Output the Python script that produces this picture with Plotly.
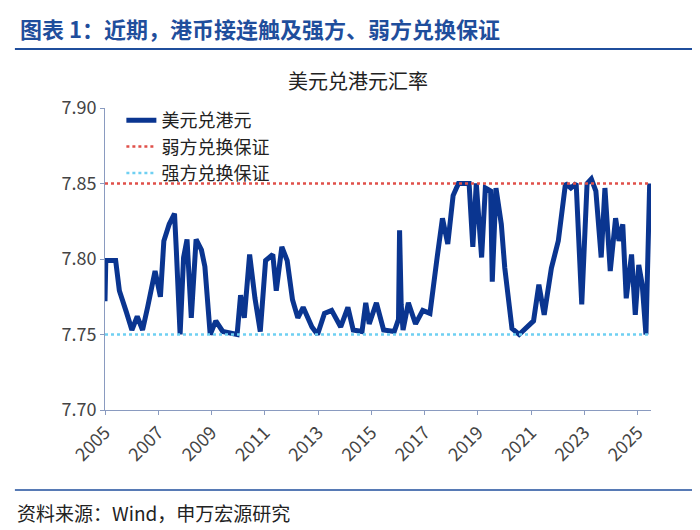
"""USD/HKD exchange rate chart with convertibility undertakings."""

import plotly.graph_objects as go

# decimal year and USD/HKD
years = [2005.00, 2005.03, 2005.40, 2005.54, 2005.80, 2006.01, 2006.21, 2006.41, 2006.60, 2006.74,
         2006.88, 2007.08, 2007.21, 2007.41, 2007.61, 2007.68, 2007.82, 2007.95, 2008.08, 2008.24,
         2008.42, 2008.62, 2008.75, 2008.95, 2009.16, 2009.42, 2009.96, 2010.09, 2010.23, 2010.43,
         2010.63, 2010.83, 2011.03, 2011.30, 2011.43, 2011.64, 2011.84, 2012.04, 2012.24, 2012.44,
         2012.77, 2012.98, 2013.24, 2013.51, 2013.85, 2014.12, 2014.32, 2014.65, 2014.79, 2014.92,
         2015.19, 2015.46, 2015.86, 2016.02, 2016.06, 2016.12, 2016.19, 2016.39, 2016.66, 2016.93,
         2017.20, 2017.47, 2017.67, 2017.87, 2018.07, 2018.27, 2018.67, 2018.81, 2018.94, 2019.14,
         2019.28, 2019.48, 2019.54, 2019.68, 2019.88, 2020.01, 2020.28, 2020.55, 2020.82, 2021.09,
         2021.29, 2021.49, 2021.76, 2022.02, 2022.29, 2022.49, 2022.69, 2022.90, 2023.10, 2023.26,
         2023.43, 2023.63, 2023.77, 2023.97, 2024.17, 2024.30, 2024.44, 2024.57, 2024.77, 2024.91,
         2025.04, 2025.17, 2025.31, 2025.36, 2025.45]
usd_hkd = [7.772, 7.799, 7.799, 7.779, 7.765, 7.753, 7.762, 7.753, 7.768, 7.779,
           7.792, 7.775, 7.812, 7.823, 7.830, 7.805, 7.750, 7.801, 7.813, 7.761,
           7.813, 7.806, 7.795, 7.750, 7.759, 7.752, 7.750, 7.776, 7.761, 7.803,
           7.774, 7.752, 7.799, 7.803, 7.779, 7.808, 7.799, 7.773, 7.761, 7.768,
           7.755, 7.750, 7.764, 7.766, 7.755, 7.768, 7.753, 7.752, 7.771, 7.757,
           7.771, 7.753, 7.752, 7.760, 7.819, 7.770, 7.753, 7.771, 7.757, 7.766,
           7.764, 7.801, 7.827, 7.810, 7.842, 7.850, 7.850, 7.808, 7.850, 7.801,
           7.847, 7.845, 7.785, 7.847, 7.823, 7.794, 7.754, 7.750, 7.754, 7.759,
           7.783, 7.763, 7.794, 7.812, 7.850, 7.847, 7.850, 7.770, 7.850, 7.853,
           7.845, 7.801, 7.847, 7.792, 7.827, 7.812, 7.823, 7.774, 7.803, 7.763,
           7.796, 7.783, 7.750, 7.800, 7.850]
weak_side = 7.85
strong_side = 7.75
tick_years = list(range(2005, 2026, 2))

BLUE = "#0a3590"

fig = go.Figure()
fig.add_trace(go.Scatter(
    x=years, y=usd_hkd, mode="lines", name="美元兑港元",
    line=dict(color=BLUE, width=5),
))
fig.add_trace(go.Scatter(
    x=[2005, 2025.45], y=[weak_side, weak_side], mode="lines", name="弱方兑换保证",
    line=dict(color="#e0504a", width=2.5, dash="dot"),
))
fig.add_trace(go.Scatter(
    x=[2005, 2025.45], y=[strong_side, strong_side], mode="lines", name="强方兑换保证",
    line=dict(color="#6fd0f2", width=2.5, dash="dot"),
))

fig.update_layout(
    width=700, height=530,
    margin=dict(l=97, r=57, t=100, b=128),
    paper_bgcolor="white", plot_bgcolor="white",
    font=dict(family="Noto Sans CJK SC", color="#444444", size=18),
    title=dict(text="美元兑港元汇率", x=0.5, xanchor="center", y=0.86, yanchor="middle",
               font=dict(size=20, color="#222222")),
    legend=dict(orientation="h", x=0.03, y=1.02, xanchor="left", yanchor="top",
                entrywidth=265, entrywidthmode="pixels", bgcolor="rgba(0,0,0,0)",
                font=dict(size=18, color="#222222"), tracegroupgap=0),
)
fig.update_xaxes(
    range=[2005, 2025.5], tickvals=tick_years, ticktext=[str(y) for y in tick_years],
    tickangle=-45, showgrid=False, zeroline=False, showline=True, linecolor="#8a9bc0",
    ticks="outside", ticklen=4, tickcolor="#8a9bc0",
)
fig.update_yaxes(
    range=[7.70, 7.90], dtick=0.05, tickformat=".2f", showgrid=False, zeroline=False,
    showline=True, linecolor="#8a9bc0", ticks="outside", ticklen=4, tickcolor="#8a9bc0",
)

# header and source
fig.add_annotation(text="<b>图表 1：近期，港币接连触及强方、弱方兑换保证</b>", xref="paper", yref="paper",
                   x=-0.16, y=1.265, xanchor="left", yanchor="middle", showarrow=False,
                   font=dict(size=22, color="#1f4e9c"))
fig.add_shape(type="line", xref="paper", yref="paper", x0=-0.165, x1=1.09, y0=1.195, y1=1.195,
              line=dict(color="#1f4e9c", width=2))
fig.add_shape(type="line", xref="paper", yref="paper", x0=-0.165, x1=1.09, y0=-0.265, y1=-0.265,
              line=dict(color="#1f4e9c", width=1.5))
fig.add_annotation(text="资料来源：Wind，申万宏源研究", xref="paper", yref="paper",
                   x=-0.165, y=-0.34, xanchor="left", yanchor="middle", showarrow=False,
                   font=dict(size=19, color="#222222"))

fig.write_html("out.html")
